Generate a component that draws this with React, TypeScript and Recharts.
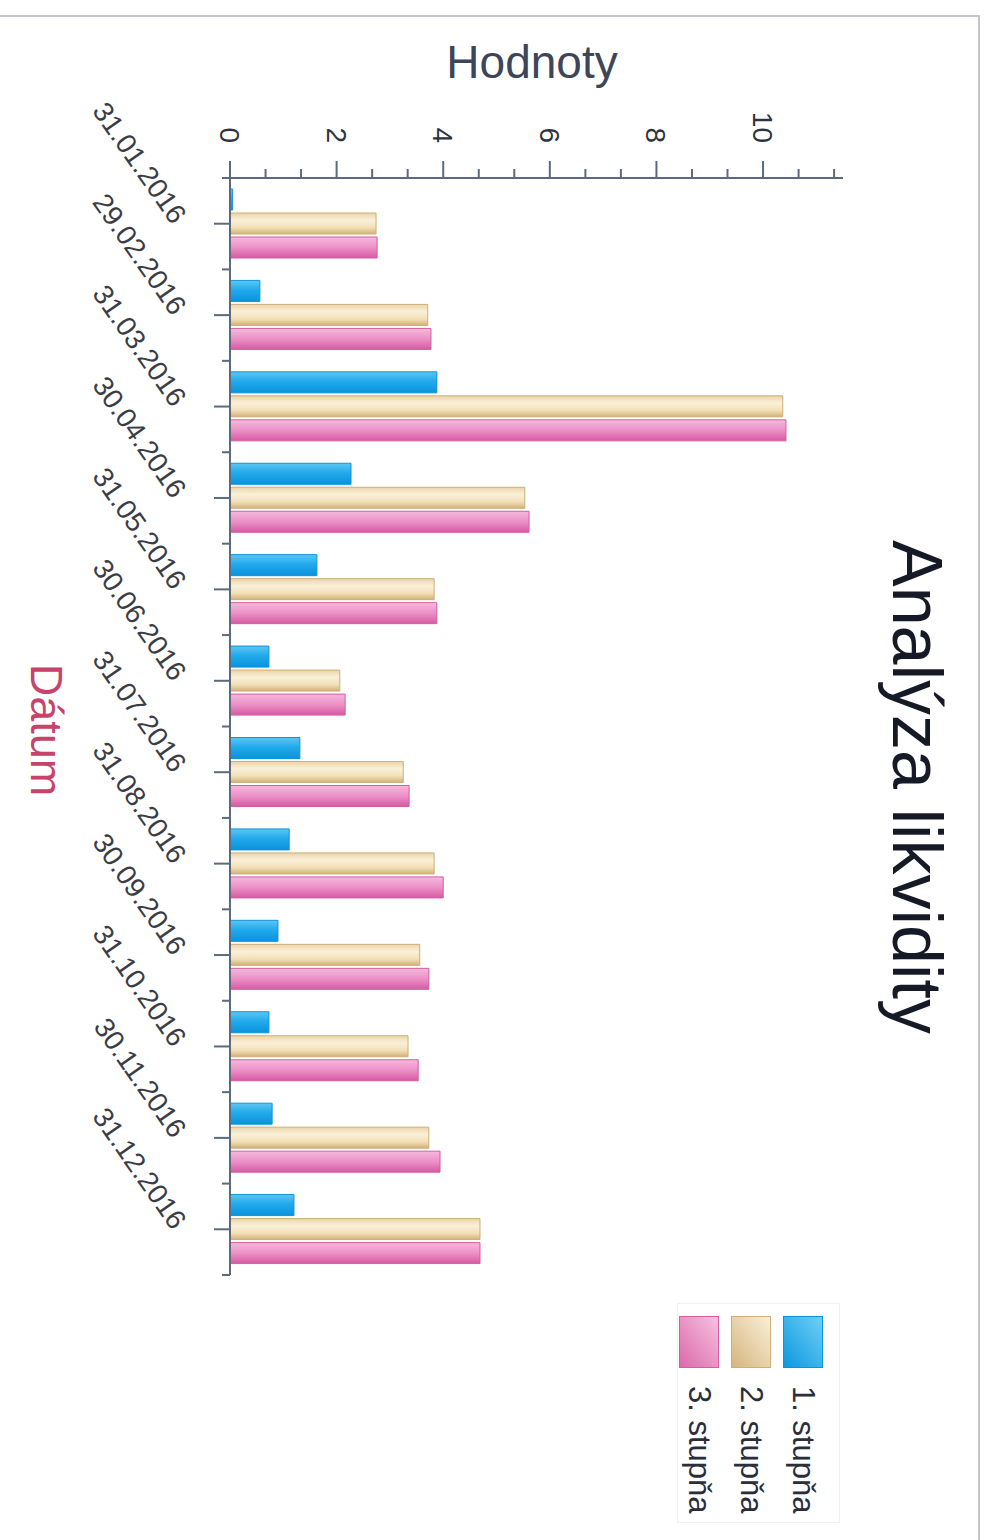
import { Bar, BarChart, Legend, XAxis, YAxis } from "recharts";

const dates = [
  "31.01.2016",
  "29.02.2016",
  "31.03.2016",
  "30.04.2016",
  "31.05.2016",
  "30.06.2016",
  "31.07.2016",
  "31.08.2016",
  "30.09.2016",
  "31.10.2016",
  "30.11.2016",
  "31.12.2016",
];

const stupen1 = [0.05, 0.56, 3.88, 2.27, 1.63, 0.73, 1.31, 1.11, 0.9, 0.73, 0.79, 1.2];
const stupen2 = [2.74, 3.71, 10.37, 5.53, 3.83, 2.06, 3.25, 3.83, 3.56, 3.34, 3.73, 4.69];
const stupen3 = [2.76, 3.77, 10.43, 5.61, 3.88, 2.16, 3.36, 4.0, 3.73, 3.53, 3.94, 4.69];

const majorTicks = [0, 2, 4, 6, 8, 10];
const valueTicks = [
  0, 0.667, 1.333, 2, 2.667, 3.333, 4, 4.667, 5.333, 6, 6.667, 7.333, 8, 8.667,
  9.333, 10, 10.667, 11.333,
];

const series = [
  { key: "s1", name: "1. stupňa", grad: "gBlue", stroke: "#0b93dc" },
  { key: "s2", name: "2. stupňa", grad: "gTan", stroke: "#cfae77" },
  { key: "s3", name: "3. stupňa", grad: "gPink", stroke: "#d65ba1" },
];

const data = dates.map((d, i) => ({
  date: d,
  s1: stupen1[i],
  s2: stupen2[i],
  s3: stupen3[i],
}));

const font = '"Liberation Sans", Arial, sans-serif';
const axisColor = "#5b6a7e";

function ValueTick(props: any) {
  const { x, y, payload } = props;
  const major = majorTicks.some((t) => Math.abs(t - payload.value) < 0.01);
  return (
    <g>
      <line x1={x - (major ? 17 : 9)} x2={x} y1={y} y2={y} stroke={axisColor} strokeWidth={2} />
      {major && (
        <text
          x={x - 35}
          y={y}
          dy={10}
          textAnchor="end"
          fontSize={28}
          fontFamily={font}
          fill="#2e3340"
        >
          {payload.value}
        </text>
      )}
    </g>
  );
}

function DateTick(props: any) {
  const { x, y, payload, index } = props;
  const half = payload.offset || 45.75;
  const tx = x + 2;
  const ty = y + 58;
  return (
    <g>
      <line x1={x} x2={x} y1={y} y2={y + 16} stroke={axisColor} strokeWidth={2} />
      <line x1={x - half} x2={x - half} y1={y} y2={y + 8} stroke={axisColor} strokeWidth={2} />
      {index === dates.length - 1 && (
        <line x1={x + half} x2={x + half} y1={y} y2={y + 8} stroke={axisColor} strokeWidth={2} />
      )}
      <text
        x={tx}
        y={ty}
        textAnchor="end"
        transform={`rotate(-35, ${tx}, ${ty})`}
        fontSize={28}
        fontFamily={font}
        fill="#3a3d46"
      >
        {payload.value}
      </text>
    </g>
  );
}

function LegendBox() {
  return (
    <div
      style={{
        width: 220,
        height: 163,
        border: "1px solid #edf1f5",
        boxSizing: "border-box",
        paddingTop: 10,
        paddingLeft: 12,
        fontFamily: font,
      }}
    >
      {series.map((s) => (
        <div key={s.key} style={{ display: "flex", alignItems: "center", height: 52 }}>
          <svg width={52} height={40} style={{ display: "block" }}>
            <rect x={0.5} y={0.5} width={51} height={39} fill={`url(#${s.grad}L)`} stroke={s.stroke} />
          </svg>
          <span style={{ marginLeft: 18, fontSize: 31, color: "#2a2e3a", lineHeight: "40px" }}>
            {s.name}
          </span>
        </div>
      ))}
    </div>
  );
}

function Gradients() {
  return (
    <defs>
      <linearGradient id="gBlue" x1="0" y1="0" x2="1" y2="0">
        <stop offset="0" stopColor="#5cc7f3" />
        <stop offset="0.45" stopColor="#22aaec" />
        <stop offset="1" stopColor="#0a92dc" />
      </linearGradient>
      <linearGradient id="gTan" x1="0" y1="0" x2="1" y2="0">
        <stop offset="0" stopColor="#ead5ab" />
        <stop offset="0.35" stopColor="#faf0d8" />
        <stop offset="0.7" stopColor="#f2dfb6" />
        <stop offset="1" stopColor="#d3b079" />
      </linearGradient>
      <linearGradient id="gPink" x1="0" y1="0" x2="1" y2="0">
        <stop offset="0" stopColor="#f6b9dc" />
        <stop offset="0.5" stopColor="#ec90c7" />
        <stop offset="1" stopColor="#d75aa2" />
      </linearGradient>
      <linearGradient id="gBlueL" x1="0" y1="0" x2="1" y2="1">
        <stop offset="0" stopColor="#6fd0f6" />
        <stop offset="1" stopColor="#0b97e0" />
      </linearGradient>
      <linearGradient id="gTanL" x1="0" y1="0" x2="1" y2="1">
        <stop offset="0" stopColor="#faf0d8" />
        <stop offset="1" stopColor="#d6b47e" />
      </linearGradient>
      <linearGradient id="gPinkL" x1="0" y1="0" x2="1" y2="1">
        <stop offset="0" stopColor="#f7c2e0" />
        <stop offset="1" stopColor="#dc68aa" />
      </linearGradient>
    </defs>
  );
}

export default function App() {
  return (
    <div
      style={{
        position: "absolute",
        left: 0,
        top: 0,
        width: 989,
        height: 1540,
        overflow: "hidden",
        background: "#fff",
      }}
    >
      <div
        style={{
          position: "absolute",
          left: -2,
          top: 15,
          width: 982,
          height: 1540,
          borderTop: "2px solid #c3c7cd",
          borderRight: "2px solid #c3c7cd",
          boxSizing: "border-box",
        }}
      />
      <div
        style={{
          position: "absolute",
          left: 0,
          top: 0,
          width: 1540,
          height: 989,
          transformOrigin: "0 0",
          transform: "translateX(989px) rotate(90deg)",
          fontFamily: font,
        }}
      >
        <div
          style={{
            position: "absolute",
            left: 787,
            top: 72,
            transform: "translate(-50%, -50%)",
            fontSize: 70,
            color: "#161a26",
            whiteSpace: "nowrap",
            lineHeight: 1,
          }}
        >
          Analýza likvidity
        </div>
        <div
          style={{
            position: "absolute",
            left: 62,
            top: 457,
            transform: "translate(-50%, -50%) rotate(-90deg)",
            fontSize: 46,
            color: "#3c4658",
            whiteSpace: "nowrap",
            lineHeight: 1,
          }}
        >
          Hodnoty
        </div>
        <div
          style={{
            position: "absolute",
            left: 730,
            top: 943,
            transform: "translate(-50%, -50%)",
            fontSize: 45,
            color: "#c8436a",
            whiteSpace: "nowrap",
            lineHeight: 1,
          }}
        >
          Dátum
        </div>
        <BarChart
          width={1540}
          height={989}
          data={data}
          margin={{ top: 146, right: 265, bottom: 0, left: 0 }}
          barSize={21}
          barGap={3}
        >
          <Gradients />
          <XAxis
            dataKey="date"
            height={230}
            interval={0}
            tickSize={0}
            tickMargin={0}
            tickLine={false}
            axisLine={{ stroke: axisColor, strokeWidth: 2 }}
            tick={<DateTick />}
          />
          <YAxis
            width={178}
            type="number"
            domain={[0, 11.5]}
            ticks={valueTicks}
            interval={0}
            tickSize={0}
            tickMargin={0}
            tickLine={false}
            axisLine={{ stroke: axisColor, strokeWidth: 2 }}
            tick={<ValueTick />}
          />
          <Legend
            layout="vertical"
            align="center"
            verticalAlign="middle"
            wrapperStyle={{ left: 1303, top: 149, width: 220, height: 163 }}
            content={() => <LegendBox />}
          />
          {series.map((s) => (
            <Bar
              key={s.key}
              dataKey={s.key}
              name={s.name}
              fill={`url(#${s.grad})`}
              stroke={s.stroke}
              strokeWidth={1}
              isAnimationActive={false}
            />
          ))}
        </BarChart>
      </div>
    </div>
  );
}
